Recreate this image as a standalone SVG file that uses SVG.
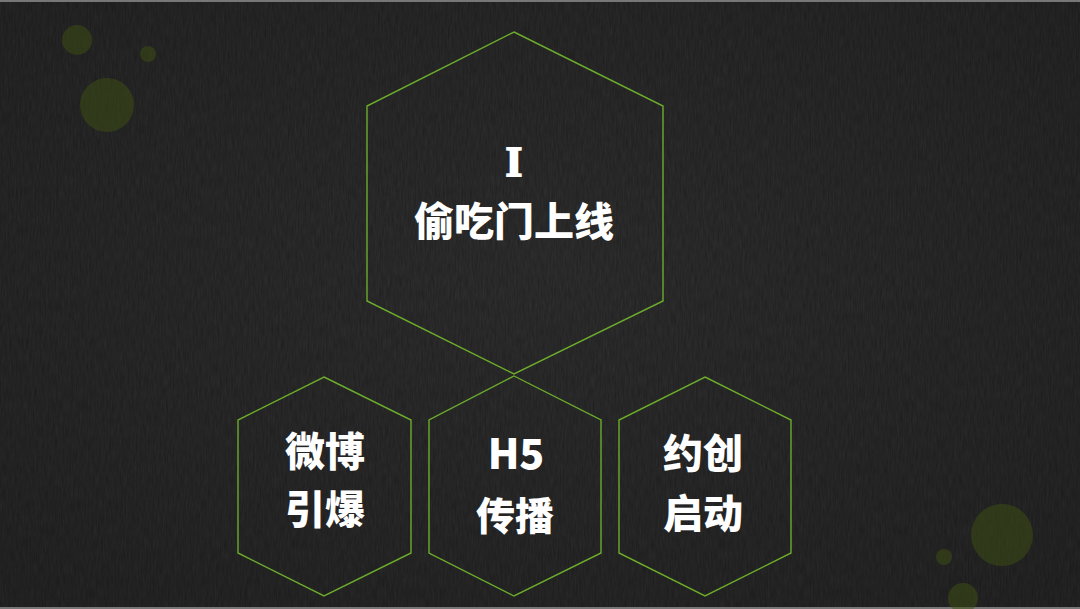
<svg xmlns="http://www.w3.org/2000/svg" width="1080" height="609" viewBox="0 0 1080 609">
<style>
.hex{fill:none;stroke:#6cab2c;stroke-width:1.4}
.t{fill:#ffffff;font-family:"Noto Sans CJK SC","Noto Sans",sans-serif;font-weight:900;text-anchor:middle}
.dot{fill:#3e5214;opacity:0.5}
</style>
<defs>
<filter id="noise" x="0" y="0" width="100%" height="100%">
<feTurbulence type="fractalNoise" baseFrequency="0.6 0.08" numOctaves="3" seed="4"/>
<feColorMatrix type="matrix" values="0 0 0 0 0  0 0 0 0 0  0 0 0 0 0  0 0 0 0.35 -0.05"/>
</filter>
<radialGradient id="bg" cx="50%" cy="45%" r="70%">
<stop offset="0" stop-color="#2f2f2f"/>
<stop offset="1" stop-color="#252525"/>
</radialGradient>
</defs>
<rect width="1080" height="609" fill="url(#bg)"/>
<rect width="1080" height="609" filter="url(#noise)"/>
<rect x="0" y="0" width="1080" height="2" fill="#777"/>
<rect x="0" y="607" width="1080" height="2" fill="#777"/>
<g id="decor">
<circle class="dot" cx="77" cy="40" r="15"/>
<circle class="dot" cx="148" cy="54" r="8"/>
<circle class="dot" cx="107" cy="105" r="27"/>
<circle class="dot" cx="1002" cy="535" r="31"/>
<circle class="dot" cx="944" cy="557" r="8"/>
<circle class="dot" cx="963" cy="598" r="15"/>
</g>
<g id="node-main">
<polygon class="hex" points="514,32 663,106 663,301 514,374 367,301 367,106"/>
<text x="514" y="176" font-size="42" fill="#ffffff" stroke="#ffffff" stroke-width="2" font-family="'Liberation Serif',serif" font-weight="700" text-anchor="middle">I</text>
<text class="t" x="514" y="236" font-size="40">偷吃门上线</text>
</g>
<g id="node-weibo">
<polygon class="hex" points="324,377 411,420 411,553 324,596 238,553 238,420"/>
<text class="t" x="325" y="466" font-size="40">微博</text>
<text class="t" x="325" y="524" font-size="40">引爆</text>
</g>
<g id="node-h5">
<polygon class="hex" points="514,376 601,420 601,553 514,596 429,553 429,420"/>
<text class="t" x="516" y="469" font-size="41">H5</text>
<text class="t" x="515" y="530" font-size="39">传播</text>
</g>
<g id="node-yuechuang">
<polygon class="hex" points="705,377 791,420 791,553 705,596 619,553 619,420"/>
<text class="t" x="703" y="468" font-size="40">约创</text>
<text class="t" x="703" y="528" font-size="40">启动</text>
</g>
<g id="connectors"></g>
</svg>
